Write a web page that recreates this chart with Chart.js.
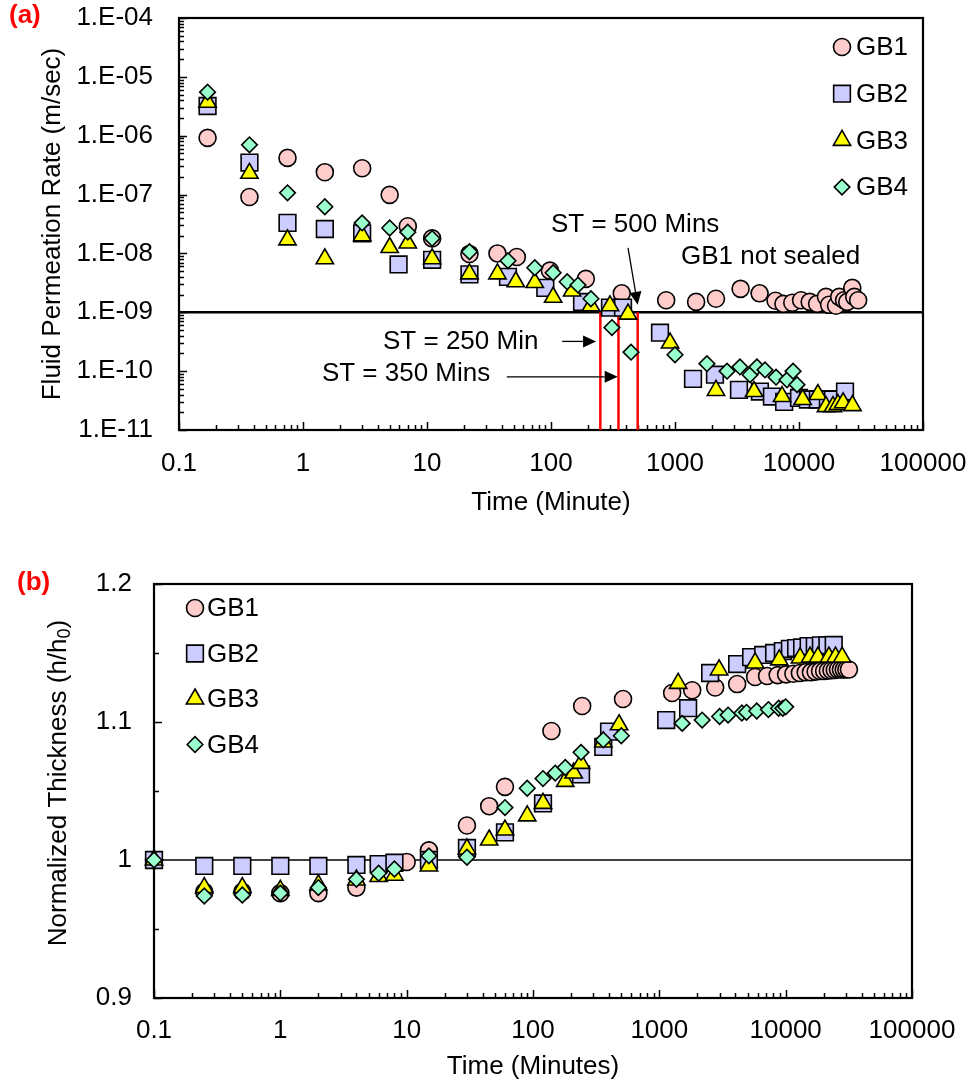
<!DOCTYPE html>
<html>
<head>
<meta charset="utf-8">
<script src="https://cdn.jsdelivr.net/npm/chart.js@4.4.1/dist/chart.umd.min.js"></script>
<style>
  html, body { margin: 0; padding: 0; background: #fff; }
  .panel { position: absolute; left: 0; width: 969px; }
  #panelA { top: 0; height: 540px; }
  #panelB { top: 540px; height: 544px; }
</style>
</head>
<body>
<div class="panel" id="panelA"><canvas id="chartA" width="969" height="540"></canvas></div>
<div class="panel" id="panelB"><canvas id="chartB" width="969" height="544"></canvas></div>
<script>
// ---------- (a) fluid permeation rate (m/sec) vs time (minutes) ----------
const rateTimeGB1 = [0.17, 0.37, 0.75, 1.5, 3, 5, 7, 11, 22, 37, 53, 98, 191, 372, 849, 1480, 2140, 3380, 4810, 6470, 7490, 8830, 10400, 12200, 14000, 16500, 17500, 19900, 21100, 23100, 24500, 26900, 27900, 30000];
const rateGB1 = [9.2e-7, 9.1e-8, 4.2e-7, 2.4e-7, 2.8e-7, 9.9e-8, 2.9e-8, 1.8e-8, 9.8e-9, 1.0e-8, 8.7e-9, 5.1e-9, 3.7e-9, 2.1e-9, 1.6e-9, 1.5e-9, 1.7e-9, 2.5e-9, 2.1e-9, 1.57e-9, 1.39e-9, 1.45e-9, 1.6e-9, 1.5e-9, 1.39e-9, 1.83e-9, 1.34e-9, 1.29e-9, 1.83e-9, 1.6e-9, 1.5e-9, 2.6e-9, 1.83e-9, 1.6e-9];

const rateTimeGB2 = [0.17, 0.37, 0.75, 1.5, 3, 5.9, 11, 22, 45, 90, 178, 299, 381, 757, 1397, 2100, 3280, 4840, 6050, 7590, 10000, 11800, 14200, 17100, 18800, 23500];
const rateGB2 = [3.2e-6, 3.5e-7, 3.3e-8, 2.6e-8, 2.2e-8, 6.5e-9, 7.8e-9, 4.4e-9, 4.0e-9, 2.6e-9, 1.5e-9, 1.2e-9, 1.2e-9, 4.5e-10, 7.4e-11, 8.7e-11, 4.8e-11, 4.5e-11, 3.7e-11, 3.0e-11, 3.5e-11, 3.3e-11, 3.3e-11, 3.3e-11, 3.3e-11, 4.5e-11];

const rateTimeGB3 = [0.17, 0.37, 0.75, 1.5, 3, 5, 7, 11, 22, 37, 52, 74, 104, 148, 210, 299, 418, 913, 2140, 4340, 7300, 10700, 14200, 16500, 18800, 20600, 22700, 27000];
const rateGB3 = [3.7e-6, 2.3e-7, 1.7e-8, 8.1e-9, 2.0e-8, 1.26e-8, 1.5e-8, 8.1e-9, 4.5e-9, 4.5e-9, 3.3e-9, 3.2e-9, 1.8e-9, 2.3e-9, 1.29e-9, 1.29e-9, 9.3e-10, 3.0e-10, 4.7e-11, 4.5e-11, 3.7e-11, 3.3e-11, 4.0e-11, 2.5e-11, 2.5e-11, 2.7e-11, 2.9e-11, 2.6e-11];

const rateTimeGB4 = [0.17, 0.37, 0.75, 1.5, 3, 5, 7, 11, 22, 45, 74, 104, 135, 165, 210, 310, 442, 1000, 1810, 2630, 3340, 4030, 4580, 5320, 6530, 8000, 8960, 9640];
const rateGB4 = [5.5e-6, 7.0e-7, 1.07e-7, 6.2e-8, 3.3e-8, 2.7e-8, 2.3e-8, 1.8e-8, 1.07e-8, 7.5e-9, 5.7e-9, 4.7e-9, 3.3e-9, 2.9e-9, 1.7e-9, 5.5e-10, 2.1e-10, 1.9e-10, 1.34e-10, 1.0e-10, 1.18e-10, 8.7e-11, 1.18e-10, 1.05e-10, 7.9e-11, 7.1e-11, 1.0e-10, 5.9e-11];

const sealThreshold = 1e-9;          // m/sec
const sealTimes = [250, 350, 500];   // minutes

const rateTicks = [1e-11, 1e-10, 1e-9, 1e-8, 1e-7, 1e-6, 1e-5, 1e-4];
const timeTicks = [0.1, 1, 10, 100, 1000, 10000, 100000];

// ---------- (b) normalized thickness h/h0 vs time (minutes) ----------
const thickTimeGB1 = [0.1, 0.25, 0.5, 1, 2, 4, 10, 15, 30, 45, 60, 140, 245, 516, 1263, 1820, 2768, 4130, 5730, 7130, 8640, 10080, 11520, 12960, 14400, 15840, 17280, 18720, 20160, 21600, 23040, 24480, 25920, 27360, 28800, 30240, 31680];
const thickGB1 = [1.0, 0.977, 0.977, 0.976, 0.976, 0.980, 0.9986, 1.007, 1.025, 1.039, 1.053, 1.0935, 1.1116, 1.1167, 1.121, 1.123, 1.125, 1.1275, 1.1326, 1.1333, 1.134, 1.1345, 1.135, 1.1355, 1.136, 1.136, 1.1365, 1.137, 1.137, 1.1372, 1.1375, 1.1377, 1.138, 1.138, 1.138, 1.138, 1.138];

const thickTimeGB2 = [0.1, 0.25, 0.5, 1, 2, 4, 6, 8, 15, 30, 60, 120, 240, 360, 400, 1133, 1690, 2525, 4130, 5330, 6640, 8100, 9500, 10800, 12100, 13500, 15200, 17000, 19000, 21400, 24000];
const thickGB2 = [1.0, 0.9957, 0.9957, 0.9957, 0.9957, 0.9964, 0.997, 0.998, 1.0, 1.0087, 1.020, 1.041, 1.062, 1.082, 1.093, 1.1014, 1.110, 1.1355, 1.142, 1.147, 1.1486, 1.150, 1.1514, 1.153, 1.1536, 1.154, 1.155, 1.155, 1.1556, 1.1556, 1.1558];

const thickTimeGB3 = [0.1, 0.25, 0.5, 1, 2, 4, 6, 8, 15, 30, 45, 60, 90, 120, 180, 210, 240, 360, 480, 1409, 2972, 5730, 8900, 13000, 15600, 18000, 22000, 24800, 28000];
const thickGB3 = [1.0, 0.980, 0.980, 0.978, 0.982, 0.9855, 0.988, 0.989, 0.9957, 1.008, 1.0145, 1.0217, 1.032, 1.041, 1.057, 1.063, 1.070, 1.0855, 1.098, 1.128, 1.1377, 1.1428, 1.145, 1.1464, 1.147, 1.147, 1.147, 1.147, 1.147];

const thickTimeGB4 = [0.1, 0.25, 0.5, 1, 2, 4, 6, 8, 15, 30, 60, 90, 120, 150, 180, 240, 360, 500, 1517, 2183, 3000, 3500, 4500, 4900, 5900, 7300, 8800, 9500, 10000];
const thickGB4 = [1.0, 0.9739, 0.9746, 0.976, 0.980, 0.986, 0.9904, 0.9935, 1.003, 1.002, 1.038, 1.052, 1.059, 1.063, 1.067, 1.078, 1.087, 1.090, 1.099, 1.1014, 1.104, 1.105, 1.1065, 1.107, 1.108, 1.109, 1.110, 1.110, 1.111];

const thickReference = 1.0;
const thickTicks = [0.9, 1.0, 1.1, 1.2];

// ---------- shared styling ----------
const FONT = "'Liberation Sans', Arial, Helvetica, sans-serif";
const FS = 26;
Chart.defaults.font.family = FONT;
Chart.defaults.font.size = FS;
Chart.defaults.color = '#000';
Chart.defaults.animation = false;

const markerStyles = {
  GB1: { pointStyle: 'circle',   fill: '#FFCCCC', radius: 8.5 },
  GB2: { pointStyle: 'rect',     fill: '#CCCCFF', radius: 11.8 },
  GB3: { pointStyle: 'triangle', fill: '#FFFF00', radius: 10 },
  GB4: { pointStyle: 'rectRot',  fill: '#99FFCC', radius: 7.8 }
};
const seriesNames = ['GB1', 'GB2', 'GB3', 'GB4'];

function toPoints(xs, ys) { return xs.map((x, i) => ({ x: x, y: ys[i] })); }

function markerDataset(name, xs, ys, order) {
  const s = markerStyles[name];
  return {
    label: name,
    data: toPoints(xs, ys),
    pointStyle: s.pointStyle,
    pointRadius: s.radius,
    pointHoverRadius: s.radius,
    backgroundColor: s.fill,
    borderColor: '#000',
    pointBorderWidth: 1.6,
    showLine: false,
    clip: false,
    order: order
  };
}

function lineDataset(points, color, width, order) {
  return {
    label: '',
    data: points,
    showLine: true,
    borderColor: color,
    borderWidth: width,
    pointRadius: 0,
    pointHoverRadius: 0,
    order: order
  };
}

// minor/major positions for log axes: 1..9 x 10^n inside [min, max]
function logTickValues(min, max) {
  const out = [];
  for (let e = Math.floor(Math.log10(min)); e <= Math.ceil(Math.log10(max)); e++) {
    for (let m = 1; m <= 9; m++) {
      const v = m * Math.pow(10, e);
      if (v >= min * 0.999 && v <= max * 1.001) out.push({ v: v, major: m === 1 });
    }
  }
  return out;
}
function linearTickValues(min, max, step, majorStep) {
  const out = [];
  const n = Math.round((max - min) / step);
  for (let i = 0; i <= n; i++) {
    const v = min + i * step;
    const k = (v - min) / majorStep;
    out.push({ v: v, major: Math.abs(k - Math.round(k)) < 1e-6 });
  }
  return out;
}

// keep the plot box where the layout padding puts it (labels may overhang)
function noOverhangX(s, h) { s.height = h; s.paddingLeft = 0; s.paddingRight = 0; }
function noOverhangY(s, w) { s.width = w; s.paddingTop = 0; s.paddingBottom = 0; }

// frame around the plot area plus inward tick marks
const frameAndTicks = {
  id: 'frameAndTicks',
  beforeDatasetsDraw(chart, args, opts) {
    const { ctx, chartArea: a, scales } = chart;
    ctx.save();
    ctx.strokeStyle = '#000';
    ctx.lineWidth = 1.5;
    ctx.beginPath();
    for (const t of opts.xTicks) {
      const px = Math.round(scales.x.getPixelForValue(t.v)) + 0.5;
      const len = t.major ? 8 : 5;
      ctx.moveTo(px, a.bottom);
      ctx.lineTo(px, a.bottom - len);
    }
    for (const t of opts.yTicks) {
      const py = Math.round(scales.y.getPixelForValue(t.v)) + 0.5;
      const len = t.major ? 8 : 5;
      ctx.moveTo(a.left, py);
      ctx.lineTo(a.left + len, py);
    }
    ctx.stroke();
    ctx.lineWidth = 2.2;
    ctx.strokeRect(a.left, a.top, a.right - a.left, a.bottom - a.top);
    ctx.restore();
  }
};

// vertical list of marker + label inside the plot area
const markerLegend = {
  id: 'markerLegend',
  afterDraw(chart, args, opts) {
    const { ctx, chartArea: a } = chart;
    ctx.save();
    ctx.font = FS + 'px ' + FONT;
    ctx.textBaseline = 'middle';
    ctx.textAlign = 'left';
    seriesNames.forEach((name, i) => {
      const s = markerStyles[name];
      const cx = a.left + opts.markerX;
      const cy = a.top + opts.firstY + i * opts.rowGap;
      ctx.fillStyle = s.fill;
      ctx.strokeStyle = '#000';
      ctx.lineWidth = 1.6;
      Chart.helpers.drawPoint(ctx, { pointStyle: s.pointStyle, radius: s.radius, borderWidth: 1.6 }, cx, cy);
      ctx.fillStyle = '#000';
      ctx.fillText(name, a.left + opts.textX, cy + 1);
    });
    ctx.restore();
  }
};

// panel letter in the upper-left corner
const panelLetter = {
  id: 'panelLetter',
  afterDraw(chart, args, opts) {
    const ctx = chart.ctx;
    ctx.save();
    ctx.font = 'bold ' + FS + 'px ' + FONT;
    ctx.fillStyle = '#FF0000';
    ctx.textBaseline = 'middle';
    ctx.textAlign = 'left';
    ctx.fillText(opts.text, opts.x, opts.y);
    ctx.restore();
  }
};

function drawArrow(ctx, x1, y1, x2, y2) {
  const ang = Math.atan2(y2 - y1, x2 - x1);
  const head = 13, half = 6;
  const bx = x2 - head * Math.cos(ang), by = y2 - head * Math.sin(ang);
  ctx.beginPath();
  ctx.moveTo(x1, y1);
  ctx.lineTo(bx, by);
  ctx.stroke();
  ctx.beginPath();
  ctx.moveTo(x2, y2);
  ctx.lineTo(bx + half * Math.sin(ang), by - half * Math.cos(ang));
  ctx.lineTo(bx - half * Math.sin(ang), by + half * Math.cos(ang));
  ctx.closePath();
  ctx.fill();
}

// sealing-time notes, placed in data coordinates
const sealNotes = [
  { text: 'ST = 500 Mins',  at: [100, 3.06e-8] },
  { text: 'GB1 not sealed', at: [1117, 8.75e-9] },
  { text: 'ST = 250 Min',   at: [4.42, 3.2e-10] },
  { text: 'ST = 350 Mins',  at: [1.42, 9.0e-11] }
];
const sealArrows = [
  { from: [418, 1.24e-8], to: [500, 1.34e-9] },
  { from: [123, 3.2e-10], to: [231, 3.2e-10] },
  { from: [44, 8.0e-11],  to: [345, 8.0e-11] }
];

const sealAnnotations = {
  id: 'sealAnnotations',
  afterDatasetsDraw(chart) {
    const { ctx, scales } = chart;
    const X = v => scales.x.getPixelForValue(v);
    const Y = v => scales.y.getPixelForValue(v);
    ctx.save();
    ctx.font = FS + 'px ' + FONT;
    ctx.fillStyle = '#000';
    ctx.strokeStyle = '#000';
    ctx.lineWidth = 1.3;
    ctx.textBaseline = 'middle';
    ctx.textAlign = 'left';
    sealNotes.forEach(n => ctx.fillText(n.text, X(n.at[0]), Y(n.at[1])));
    sealArrows.forEach(a => drawArrow(ctx, X(a.from[0]), Y(a.from[1]), X(a.to[0]), Y(a.to[1])));
    ctx.restore();
  }
};

// rotated y title with a subscript zero
const thicknessTitle = {
  id: 'thicknessTitle',
  afterDraw(chart, args, opts) {
    const { ctx, chartArea: a } = chart;
    const main = 'Normalized Thickness (h/h';
    const big = FS + 'px ' + FONT, small = Math.round(FS * 0.68) + 'px ' + FONT;
    ctx.save();
    ctx.translate(opts.x, (a.top + a.bottom) / 2 + opts.shift);
    ctx.rotate(-Math.PI / 2);
    ctx.fillStyle = '#000';
    ctx.textBaseline = 'middle';
    ctx.font = big;
    const w1 = ctx.measureText(main).width;
    ctx.font = small;
    const w2 = ctx.measureText('0').width;
    ctx.font = big;
    const w3 = ctx.measureText(')').width;
    let x = -(w1 + w2 + w3) / 2;
    ctx.textAlign = 'left';
    ctx.fillText(main, x, 0);
    x += w1;
    ctx.font = small;
    ctx.fillText('0', x, 6);
    x += w2;
    ctx.font = big;
    ctx.fillText(')', x, 0);
    ctx.restore();
  }
};

function fmtTime(v) {
  return v < 1 ? String(v) : String(Math.round(v));
}
function fmtRate(v) {
  const e = Math.round(Math.log10(v));
  return '1.E' + (e < 0 ? '-' : '+') + String(Math.abs(e)).padStart(2, '0');
}

const noGrid = { display: false, drawTicks: false };
const noBorder = { display: false };

// ---------- chart (a) ----------
new Chart(document.getElementById('chartA'), {
  type: 'scatter',
  data: {
    datasets: [
      markerDataset('GB4', rateTimeGB4, rateGB4, 1),
      markerDataset('GB3', rateTimeGB3, rateGB3, 2),
      markerDataset('GB2', rateTimeGB2, rateGB2, 3),
      markerDataset('GB1', rateTimeGB1, rateGB1, 4),
      lineDataset([{ x: 0.1, y: sealThreshold }, { x: 100000, y: sealThreshold }], '#000', 2.5, 10)
    ].concat(sealTimes.map(t => lineDataset([{ x: t, y: sealThreshold }, { x: t, y: 1e-11 }], '#FF0000', 2.5, 9)))
  },
  options: {
    responsive: false,
    layout: { padding: { left: 0, top: 18, right: 46, bottom: 0 } },
    plugins: {
      legend: { display: false },
      tooltip: { enabled: false },
      frameAndTicks: { xTicks: logTickValues(0.1, 100000), yTicks: logTickValues(1e-11, 1e-4) },
      markerLegend: { markerX: 663, textX: 677, firstY: 29, rowGap: 46.7 },
      panelLetter: { text: '(a)', x: 9, y: 16 }
    },
    scales: {
      x: {
        type: 'logarithmic', min: 0.1, max: 100000,
        afterBuildTicks: s => { s.ticks = timeTicks.map(v => ({ value: v })); },
        afterFit: s => noOverhangX(s, 110),
        grid: noGrid, border: noBorder,
        ticks: { autoSkip: false, maxRotation: 0, padding: 18, callback: v => fmtTime(v) },
        title: { display: true, text: 'Time (Minute)', padding: { top: 0, bottom: 22 } }
      },
      y: {
        type: 'logarithmic', min: 1e-11, max: 1e-4,
        afterBuildTicks: s => { s.ticks = rateTicks.map(v => ({ value: v })); },
        afterFit: s => noOverhangY(s, 179),
        grid: noGrid, border: noBorder,
        ticks: { autoSkip: false, padding: 26, callback: v => fmtRate(v) },
        title: { display: true, text: 'Fluid Permeation Rate (m/sec)', padding: { top: 37, bottom: 0 } }
      }
    }
  },
  plugins: [frameAndTicks, markerLegend, panelLetter, sealAnnotations]
});

// ---------- chart (b) ----------
new Chart(document.getElementById('chartB'), {
  type: 'scatter',
  data: {
    datasets: [
      markerDataset('GB4', thickTimeGB4, thickGB4, 1),
      markerDataset('GB3', thickTimeGB3, thickGB3, 2),
      markerDataset('GB2', thickTimeGB2, thickGB2, 3),
      markerDataset('GB1', thickTimeGB1, thickGB1, 4),
      lineDataset([{ x: 0.1, y: thickReference }, { x: 100000, y: thickReference }], '#000', 1.5, 10)
    ]
  },
  options: {
    responsive: false,
    layout: { padding: { left: 0, top: 44, right: 57, bottom: 0 } },
    plugins: {
      legend: { display: false },
      tooltip: { enabled: false },
      frameAndTicks: { xTicks: logTickValues(0.1, 100000), yTicks: linearTickValues(0.9, 1.2, 0.05, 0.1) },
      markerLegend: { markerX: 41, textX: 53, firstY: 24, rowGap: 45.5 },
      panelLetter: { text: '(b)', x: 17, y: 43 },
      thicknessTitle: { x: 59, shift: -8 }
    },
    scales: {
      x: {
        type: 'logarithmic', min: 0.1, max: 100000,
        afterBuildTicks: s => { s.ticks = timeTicks.map(v => ({ value: v })); },
        afterFit: s => noOverhangX(s, 86),
        grid: noGrid, border: noBorder,
        ticks: { autoSkip: false, maxRotation: 0, padding: 17, callback: v => fmtTime(v) },
        title: { display: true, text: 'Time (Minutes)', padding: { top: 0, bottom: 2 } }
      },
      y: {
        type: 'linear', min: 0.9, max: 1.2,
        afterBuildTicks: s => { s.ticks = thickTicks.map(v => ({ value: v })); },
        afterFit: s => noOverhangY(s, 154),
        grid: noGrid, border: noBorder,
        ticks: { autoSkip: false, padding: 22, callback: v => (Math.abs(v - 1) < 1e-9 ? '1' : v.toFixed(1)) }
      }
    }
  },
  plugins: [frameAndTicks, markerLegend, panelLetter, thicknessTitle]
});
</script>
</body>
</html>
